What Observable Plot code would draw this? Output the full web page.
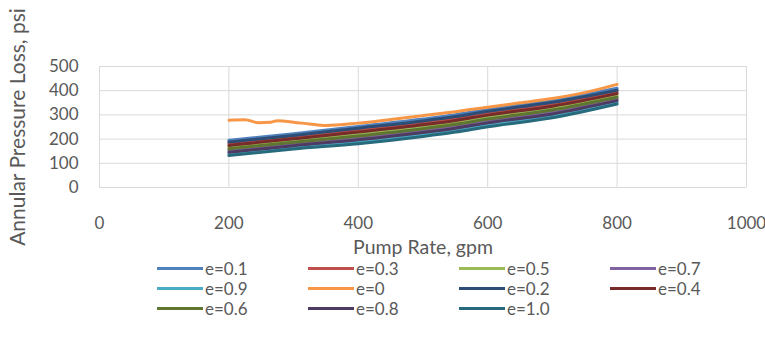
<!DOCTYPE html>
<html>
<head>
<meta charset="utf-8">
<script src="https://cdn.jsdelivr.net/npm/d3@7"></script>
<script src="https://cdn.jsdelivr.net/npm/@observablehq/plot@0.6"></script>
<style>
  body { margin: 0; background: #fff; font-family: Lato, "Open Sans", sans-serif; }
  #wrap { position: relative; width: 765px; height: 338px; overflow: hidden; }
  #legend { position: absolute; left: 157px; top: 258px; display: grid; grid-template-columns: repeat(4, 151px); grid-auto-rows: 20px; }
  .item { display: flex; align-items: center; font-size: 17px; color: #595959; }
  .sw { width: 46px; height: 3px; margin-right: 2px; }
</style>
</head>
<body>
<div id="wrap"></div>
<script>
// Pump rate points (gpm)
const rates = [200, 300, 400, 500, 550, 600, 700, 800];
// Annular pressure loss (psi) per eccentricity
const e01 = [195, 222, 252, 283, 301, 323, 360, 410];
const e02 = [188, 215, 245, 275, 293, 315, 352, 402];
const e03 = [181, 208, 237, 267, 285, 307, 344, 395];
const e04 = [174, 201, 229, 259, 277, 299, 336, 388];
const e05 = [167, 194, 221, 251, 269, 291, 328, 380];
const e06 = [160, 187, 213, 243, 261, 283, 320, 373];
const e07 = [153, 180, 205, 235, 253, 275, 312, 366];
const e08 = [146, 173, 197, 227, 245, 267, 304, 359];
const e09 = [139, 166, 189, 219, 237, 259, 296, 352];
const e10 = [132, 159, 181, 211, 229, 251, 288, 345];
// e=0 series has its own sampled points
const ratesE0 = [200, 225, 245, 265, 275, 300, 325, 350, 400, 450, 500, 550, 600, 650, 700, 750, 800];
const e00 = [278, 280, 268, 270, 276, 270, 262, 256, 266, 281, 297, 313, 332, 350, 368, 392, 426];

const seriesNames = ["e=0.1", "e=0.3", "e=0.5", "e=0.7", "e=0.9", "e=0", "e=0.2", "e=0.4", "e=0.6", "e=0.8", "e=1.0"];
const seriesColors = ["#4F81BD", "#C0504D", "#9BBB59", "#8064A2", "#4BACC6", "#F79646", "#2C4D75", "#772C2A", "#5F7530", "#4D3B62", "#276A7C"];
const xTicks = [0, 200, 400, 600, 800, 1000];
const yTicks = [0, 100, 200, 300, 400, 500];

const seriesData = {
  "e=0.1": [rates, e01], "e=0.3": [rates, e03], "e=0.5": [rates, e05], "e=0.7": [rates, e07],
  "e=0.9": [rates, e09], "e=0": [ratesE0, e00], "e=0.2": [rates, e02], "e=0.4": [rates, e04],
  "e=0.6": [rates, e06], "e=0.8": [rates, e08], "e=1.0": [rates, e10]
};
const rows = [];
for (const name of seriesNames) {
  const [xs, ys] = seriesData[name];
  xs.forEach((x, i) => rows.push({series: name, rate: x, loss: ys[i]}));
}

const textColor = "#595959";
const chart = Plot.plot({
  width: 765,
  height: 258,
  marginLeft: 99,
  marginRight: 19,
  marginTop: 66,
  marginBottom: 71,
  style: {fontFamily: "Lato, 'Open Sans', sans-serif", fontSize: "17px", color: textColor, background: "#fff"},
  x: {domain: [0, 1000]},
  y: {domain: [0, 500]},
  color: {domain: seriesNames, range: seriesColors},
  marks: [
    Plot.ruleX(xTicks, {stroke: "#d9d9d9", strokeWidth: 1}),
    Plot.ruleY(yTicks, {stroke: "#d9d9d9", strokeWidth: 1}),
    Plot.axisX({ticks: xTicks, tickSize: 0, tickPadding: 29, tickFormat: d => String(d), label: null, fontSize: 17}),
    Plot.axisY({ticks: yTicks, tickSize: 0, tickPadding: 21, tickFormat: d => String(d), label: null, fontSize: 17}),
    Plot.line(rows, {x: "rate", y: "loss", z: "series", stroke: "series", strokeWidth: 3, curve: "monotone-x"}),
    Plot.text(["Pump Rate, gpm"], {frameAnchor: "bottom", dy: 66, fontSize: 19.5, fill: textColor, textAnchor: "middle"}),
    Plot.text(["Annular Pressure Loss, psi"], {frameAnchor: "left", dx: -81, rotate: -90, fontSize: 21, fill: textColor, textAnchor: "middle"})
  ]
});
const wrap = document.getElementById("wrap");
wrap.appendChild(chart);

const legend = document.createElement("div");
legend.id = "legend";
seriesNames.forEach((name, i) => {
  const item = document.createElement("div");
  item.className = "item";
  const sw = document.createElement("span");
  sw.className = "sw";
  sw.style.background = seriesColors[i];
  const lab = document.createElement("span");
  lab.textContent = name;
  item.appendChild(sw);
  item.appendChild(lab);
  legend.appendChild(item);
});
wrap.appendChild(legend);
</script>
</body>
</html>
